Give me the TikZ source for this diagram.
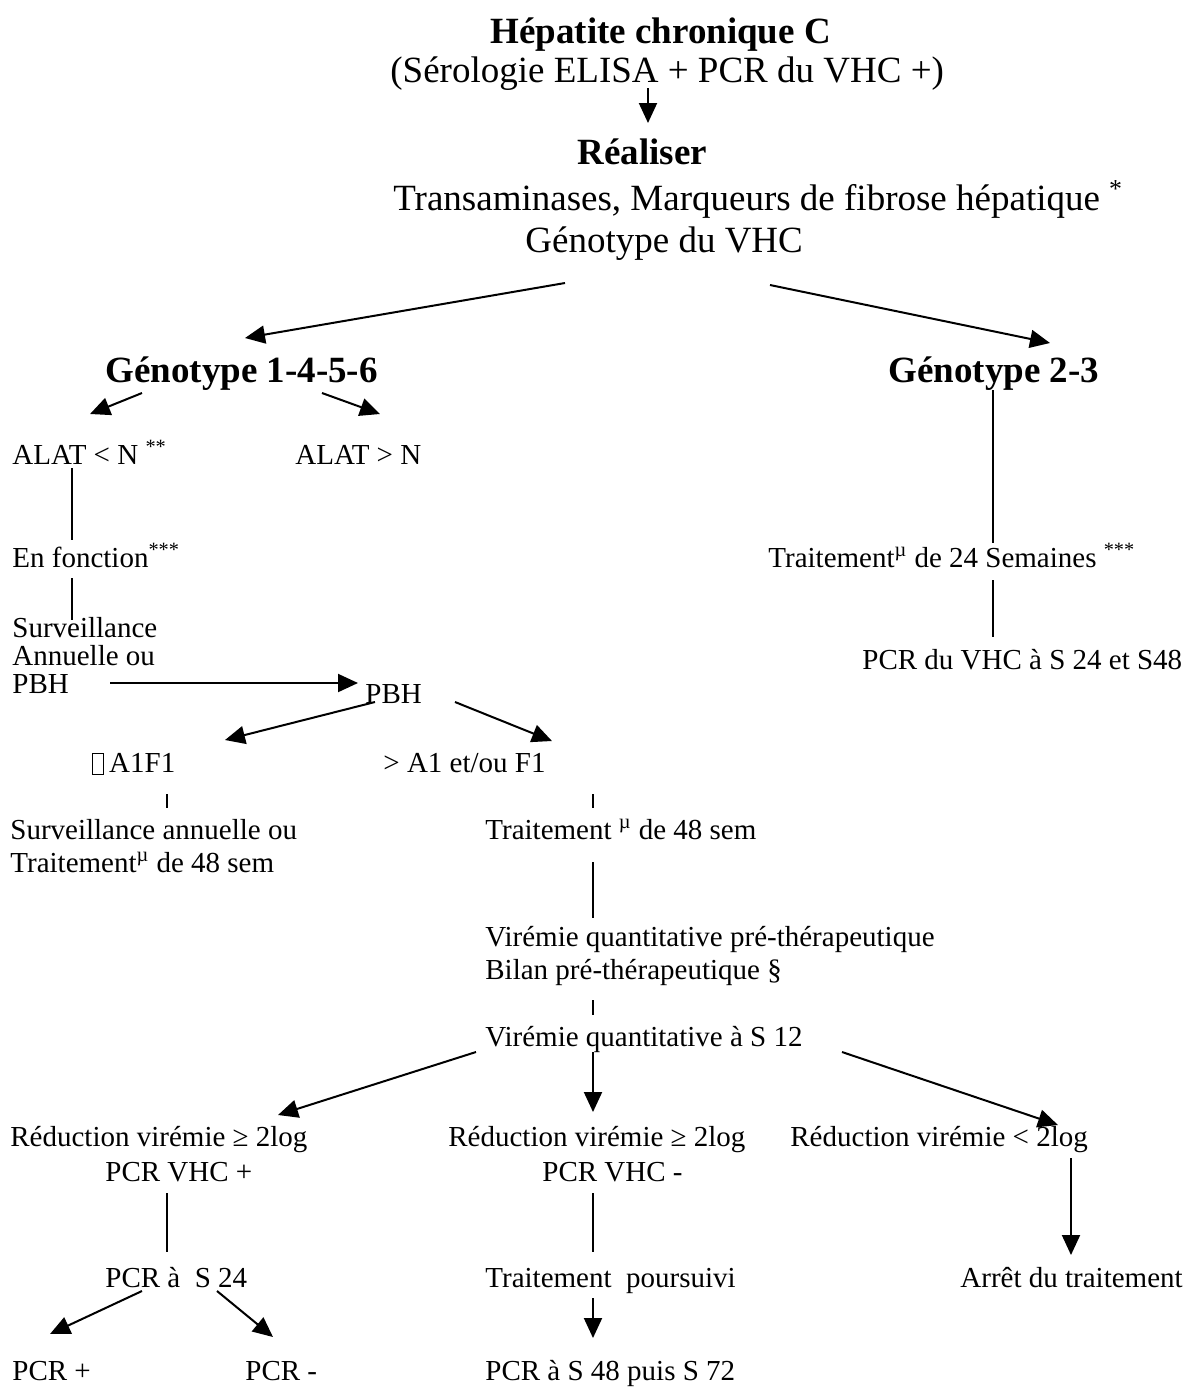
\documentclass[tikz,border=0pt]{standalone}
\usepackage{fontspec}
\setmainfont{Liberation Serif}
\usetikzlibrary{arrows.meta,calc}
\newcommand{\grand}{\fontsize{18.5}{21}\selectfont}
\newcommand{\corps}{\fontsize{14.5}{16.5}\selectfont}
\newcommand{\boite}{{\setlength{\fboxsep}{0pt}\setlength{\fboxrule}{0.5pt}\fbox{\rule[-1pt]{0pt}{10pt}\hspace{5pt}}}}
\begin{document}
\begin{tikzpicture}[x=0.5pt, y=-0.5pt,
    txt/.style={inner sep=0pt, anchor=base west, font=\corps},
    haut/.style={txt, font=\grand},
    gras/.style={txt, font=\grand\bfseries},
    fleche/.style={-{Triangle[length=10pt,width=9pt]}, line width=1pt},
    trait/.style={line width=0.8pt}]
    \useasboundingbox (0,0) rectangle (1185,1389);

    % =====================================
    %            En-tête
    % =====================================
    \node[gras] (titre) at (490,43) {Hépatite chronique C};
    \node[haut] (sero) at (390,82) {(Sérologie ELISA + PCR du VHC +)};
    \node[gras] (real) at (577,164) {Réaliser};
    \node[haut] (trans) at (393,210) {Transaminases, Marqueurs de fibrose hépatique \textsuperscript{*}};
    \node[haut] (geno) at (525,252) {Génotype du VHC};
    \draw[fleche] ($(sero.base west)+(258,6)$) -- ($(real.base west)+(71,-41)$);

    % deux génotypes
    \node[gras] (g1) at (105,382) {Génotype 1-4-5-6};
    \node[gras] (g2) at (888,382) {Génotype 2-3};
    \draw[fleche] ($(geno.base west)+(40,31)$) -- ($(g1.base west)+(140,-44)$);
    \draw[fleche] ($(geno.base west)+(245,33)$) -- ($(g2.base west)+(162,-39)$);

    % =====================================
    %            Génotype 1-4-5-6
    % =====================================
    \node[txt] (alatinf) at (12,464) {ALAT < N \textsuperscript{**}};
    \node[txt] (alatsup) at (295,464) {ALAT > N};
    \draw[fleche] ($(g1.base west)+(37,11)$) -- ($(alatinf.base west)+(78,-50)$);
    \draw[fleche] ($(g1.base west)+(217,11)$) -- ($(alatsup.base west)+(85,-50)$);

    \node[txt] (fonction) at (12,567) {En fonction\textsuperscript{***}};
    \draw[trait] ($(alatinf.base west)+(60,4)$) -- ($(fonction.base west)+(60,-27)$);

    % (ancre base = dernière ligne)
    \node[txt, align=left, font=\fontsize{14.5}{14}\selectfont] (surv) at (12,693) {Surveillance\\Annuelle ou\\PBH};
    \draw[trait] ($(fonction.base west)+(60,11)$) -- ($(surv.base west)+(60,-73)$);

    % PBH
    \node[txt] (pbh) at (365,703) {PBH};
    \draw[fleche] ($(surv.base west)+(98,-10)$) -- ($(pbh.base west)+(-7,-20)$);

    \node[txt] (a1f1) at (92,772) {\boite\,A1F1};
    \node[txt] (sa1) at (383,772) {> A1 et/ou F1};
    \draw[fleche] ($(pbh.base west)+(10,-1)$) -- ($(a1f1.base west)+(133,-32)$);
    \draw[fleche] ($(pbh.base west)+(90,-1)$) -- ($(sa1.base west)+(169,-31)$);

    \node[txt, align=left, font=\fontsize{14.5}{16.5}\selectfont] (survann) at (10,872) {Surveillance annuelle ou\\Traitement\textsuperscript{µ} de 48 sem};
    \node[txt] (trait48) at (485,839) {Traitement \textsuperscript{µ} de 48 sem};
    \draw[trait] ($(a1f1.base west)+(75,22)$) -- ($(survann.base west)+(157,-64)$);
    \draw[trait] ($(sa1.base west)+(210,22)$) -- ($(trait48.base west)+(108,-31)$);

    \node[txt, align=left, font=\fontsize{14.5}{16.5}\selectfont] (viremie) at (485,979) {Virémie quantitative pré-thérapeutique\\Bilan pré-thérapeutique §};
    \draw[trait] ($(trait48.base west)+(108,23)$) -- ($(viremie.base west)+(108,-61)$);

    \node[txt] (vs12) at (485,1046) {Virémie quantitative à S 12};
    \draw[trait] ($(viremie.base west)+(108,21)$) -- ($(vs12.base west)+(108,-31)$);

    % réponse à S 12
    \node[txt] (red1) at (10,1146) {Réduction virémie ≥ 2log};
    \node[txt] (pcr1) at (105,1181) {PCR VHC +};
    \node[txt] (red2) at (448,1146) {Réduction virémie ≥ 2log};
    \node[txt] (pcr2) at (542,1181) {PCR VHC -};
    \node[txt] (red3) at (790,1146) {Réduction virémie < 2log};
    \draw[fleche] ($(vs12.base west)+(-9,6)$) -- ($(red1.base west)+(268,-31)$);
    \draw[fleche] ($(vs12.base west)+(108,6)$) -- ($(red2.base west)+(145,-34)$);
    \draw[fleche] ($(vs12.base west)+(357,6)$) -- ($(red3.base west)+(268,-21)$);

    \node[txt] (pcr24) at (105,1287) {PCR à~ S 24};
    \node[txt] (trpours) at (485,1287) {Traitement~ poursuivi};
    \node[txt] (arret) at (960,1287) {Arrêt du traitement};
    \draw[trait] ($(pcr1.base west)+(62,12)$) -- ($(pcr24.base west)+(62,-35)$);
    \draw[trait] ($(pcr2.base west)+(51,12)$) -- ($(trpours.base west)+(108,-35)$);
    \draw[fleche] ($(red3.base west)+(281,12)$) -- ($(arret.base west)+(111,-32)$);

    \node[txt] (pcrp) at (12,1380) {PCR +};
    \node[txt] (pcrm) at (245,1380) {PCR -};
    \node[txt] (pcr48) at (485,1380) {PCR à S 48 puis S 72};
    \draw[fleche] ($(pcr24.base west)+(37,4)$) -- ($(pcrp.base west)+(38,-46)$);
    \draw[fleche] ($(pcr24.base west)+(112,4)$) -- ($(pcrm.base west)+(28,-43)$);
    \draw[fleche] ($(trpours.base west)+(108,11)$) -- ($(pcr48.base west)+(108,-42)$);

    % =====================================
    %            Génotype 2-3
    % =====================================
    \node[txt] (trait24) at (768,567) {Traitement\textsuperscript{µ} de 24 Semaines \textsuperscript{***}};
    \node[txt] (pcrs48) at (862,669) {PCR du VHC à S 24 et S48};
    \draw[trait] ($(g2.base west)+(105,8)$) -- ($(trait24.base west)+(225,-24)$);
    \draw[trait] ($(trait24.base west)+(225,13)$) -- ($(pcrs48.base west)+(131,-32)$);
\end{tikzpicture}
\end{document}
